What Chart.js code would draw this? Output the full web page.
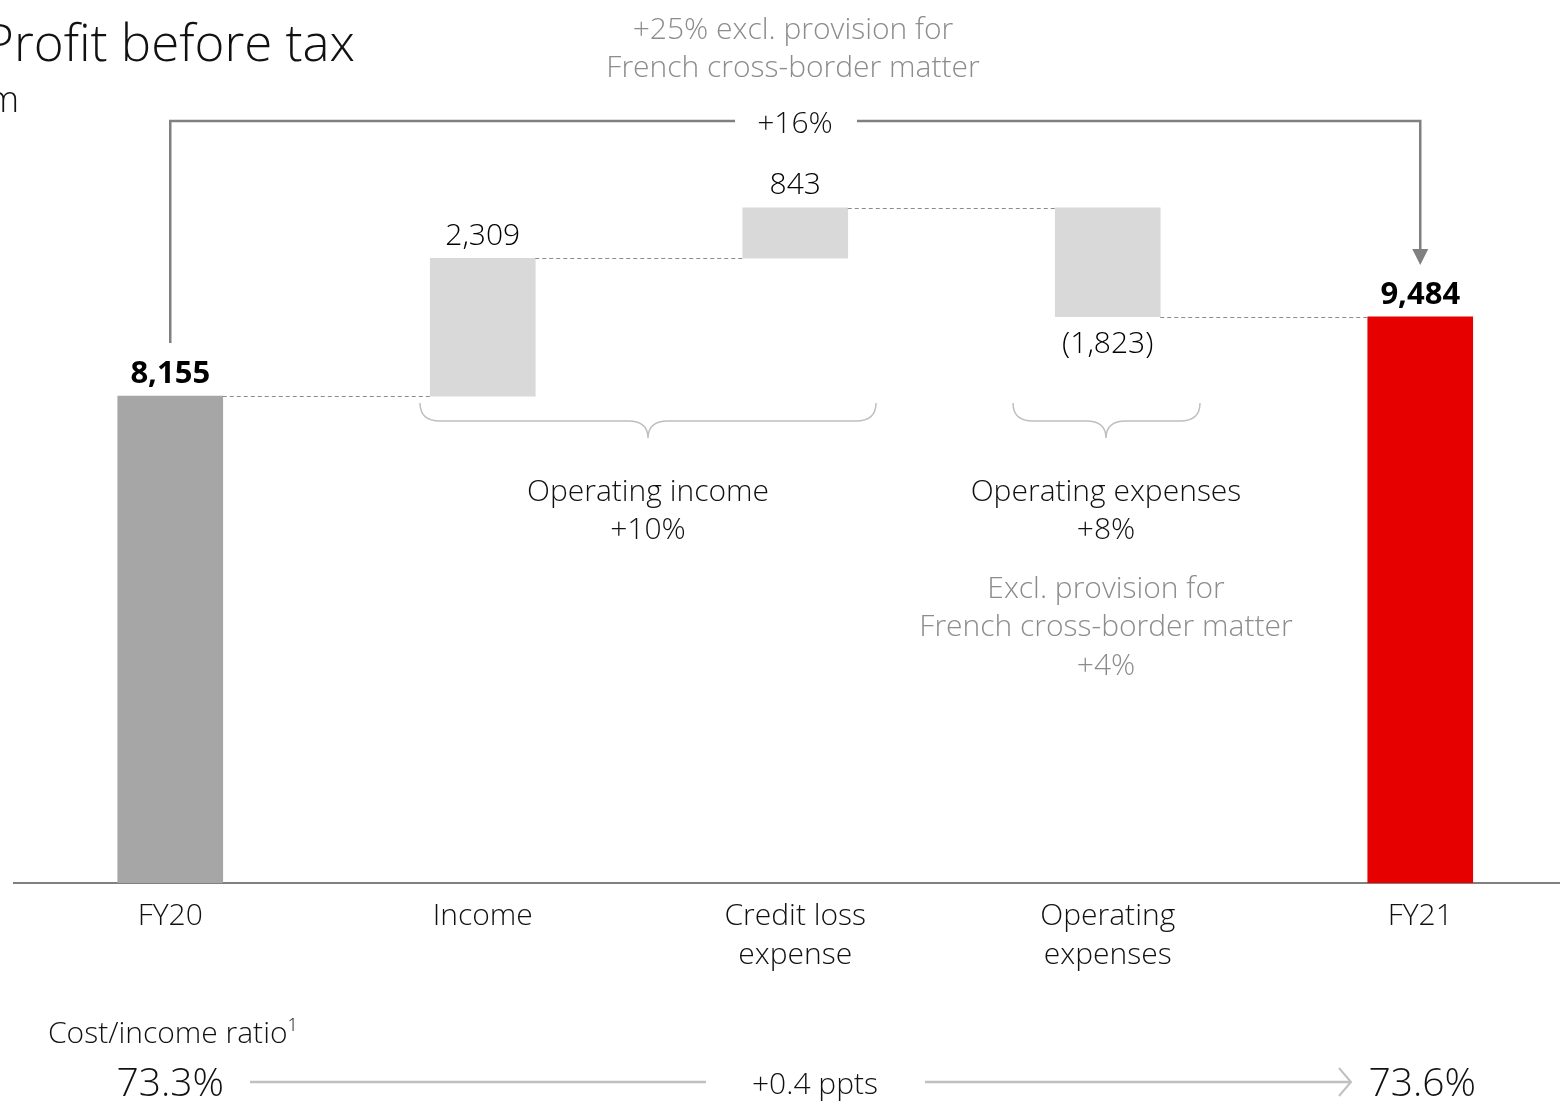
<!DOCTYPE html>
<html>
<head>
<meta charset="utf-8">
<title>Profit before tax</title>
<script src="https://cdn.jsdelivr.net/npm/chart.js@4/dist/chart.umd.min.js"></script>
<style>
  html, body { margin: 0; padding: 0; background: #fff; overflow: hidden; }
  #wrap { position: absolute; left: -120px; top: 0; width: 1720px; height: 1102px; }
</style>
</head>
<body>
<div id="wrap"><canvas id="pbt" width="1720" height="1102"></canvas></div>
<script>
  // shift of the canvas against the page (title is partly off the left edge)
  var OFFSET = 120;
  var FONT = '"Open Sans", "Noto Sans", sans-serif';

  // waterfall data, USD m
  var categories = ['FY20', 'Income', ['Credit loss', 'expense'], ['Operating', 'expenses'], 'FY21'];
  var startValue = 8155;
  var changes = [2309, 843, -1823];
  var endValue = 9484;
  var valueLabels = ['8,155', '2,309', '843', '(1,823)', '9,484'];
  var barColors = ['#a6a6a6', '#d9d9d9', '#d9d9d9', '#d9d9d9', '#e60000'];

  // cost/income ratio row
  var ratioStart = '73.3%';
  var ratioEnd = '73.6%';
  var ratioChange = '+0.4 ppts';

  // build floating ranges for the waterfall
  var ranges = [[0, startValue]];
  var running = startValue;
  changes.forEach(function(c) {
    var next = running + c;
    ranges.push([Math.min(running, next), Math.max(running, next)]);
    running = next;
  });
  ranges.push([0, endValue]);

  function text(ctx, str, x, y, size, color, weight, align) {
    ctx.save();
    ctx.font = (weight || 300) + ' ' + size + 'px ' + FONT;
    ctx.fillStyle = color || '#111';
    ctx.textAlign = align || 'center';
    ctx.textBaseline = 'middle';
    ctx.fillText(str, x + OFFSET, y + 2);
    ctx.restore();
  }

  function line(ctx, pts, color, width, dash) {
    ctx.save();
    ctx.strokeStyle = color;
    ctx.lineWidth = width;
    ctx.setLineDash(dash || []);
    ctx.beginPath();
    pts.forEach(function(p, i) {
      if (i === 0) ctx.moveTo(p[0] + OFFSET, p[1]);
      else ctx.lineTo(p[0] + OFFSET, p[1]);
    });
    ctx.stroke();
    ctx.restore();
  }

  // curly brace opening downwards, from l to r, cusp at m
  function brace(ctx, l, r, m, top, color) {
    var mid = top + 18, tip = top + 35;
    l += OFFSET; r += OFFSET; m += OFFSET;
    ctx.save();
    ctx.strokeStyle = color;
    ctx.lineWidth = 1.5;
    ctx.beginPath();
    ctx.moveTo(l, top);
    ctx.quadraticCurveTo(l, mid, l + 20, mid);
    ctx.lineTo(m - 20, mid);
    ctx.quadraticCurveTo(m, mid, m, tip);
    ctx.quadraticCurveTo(m, mid, m + 20, mid);
    ctx.lineTo(r - 20, mid);
    ctx.quadraticCurveTo(r, mid, r, top);
    ctx.stroke();
    ctx.restore();
  }

  var waterfallPlugin = {
    id: 'waterfall',
    afterDatasetsDraw: function(chart) {
      var ctx = chart.ctx;
      var meta = chart.getDatasetMeta(0);
      var y = chart.scales.y;
      // dashed connectors between bars
      var level = startValue;
      for (var i = 0; i < meta.data.length - 1; i++) {
        if (i > 0) level += changes[i - 1];
        var a = meta.data[i], b = meta.data[i + 1];
        var py = Math.round(y.getPixelForValue(level)) + 0.5;
        line(ctx, [[a.x + a.width / 2 - OFFSET, py], [b.x - b.width / 2 - OFFSET, py]], '#8c8c8c', 1, [4, 3]);
      }
      // value labels
      meta.data.forEach(function(bar, i) {
        var bold = (i === 0 || i === meta.data.length - 1);
        var neg = i > 0 && i < meta.data.length - 1 && changes[i - 1] < 0;
        var top = Math.min(bar.y, bar.base), bottom = Math.max(bar.y, bar.base);
        var ly = neg ? bottom + 26 : top - 24;
        text(ctx, valueLabels[i], bar.x - OFFSET, ly, bold ? 31 : 30, '#000', bold ? 700 : 300);
      });
    },
    afterDraw: function(chart) {
      var ctx = chart.ctx;
      var meta = chart.getDatasetMeta(0);
      var cx = meta.data.map(function(b) { return b.x - OFFSET; });

      // title
      text(ctx, 'Profit before tax', 355, 44, 51, '#111', 300, 'right');
      text(ctx, 'USD m', 19, 100, 36, '#111', 300, 'right');

      // +16% bracket with arrow
      var grey = '#808080';
      line(ctx, [[cx[0], 343], [cx[0], 121], [735, 121]], grey, 2.5);
      line(ctx, [[857, 121], [cx[4], 121], [cx[4], 252]], grey, 2.5);
      ctx.save();
      ctx.fillStyle = grey;
      ctx.beginPath();
      ctx.moveTo(cx[4] - 8 + OFFSET, 249);
      ctx.lineTo(cx[4] + 8 + OFFSET, 249);
      ctx.lineTo(cx[4] + OFFSET, 265);
      ctx.closePath();
      ctx.fill();
      ctx.restore();
      text(ctx, '+16%', 795, 122, 30, '#111');
      text(ctx, '+25% excl. provision for', 793, 28, 30, '#8c8c8c');
      text(ctx, 'French cross-border matter', 793, 66, 30, '#8c8c8c');

      // operating income brace
      brace(ctx, 420, 876, 648, 403, '#bfbfbf');
      text(ctx, 'Operating income', 648, 490, 30, '#111');
      text(ctx, '+10%', 648, 528, 30, '#111');

      // operating expenses brace
      brace(ctx, 1013, 1200, 1106, 403, '#bfbfbf');
      text(ctx, 'Operating expenses', 1106, 490, 30, '#111');
      text(ctx, '+8%', 1106, 528, 30, '#111');
      text(ctx, 'Excl. provision for', 1106, 587, 30, '#8c8c8c');
      text(ctx, 'French cross-border matter', 1106, 625, 30, '#8c8c8c');
      text(ctx, '+4%', 1106, 664, 30, '#8c8c8c');

      // cost/income ratio row
      text(ctx, 'Cost/income ratio', 48, 1032, 30, '#111', 300, 'left');
      ctx.save();
      ctx.font = '300 30px ' + FONT;
      var w = ctx.measureText('Cost/income ratio').width;
      ctx.restore();
      text(ctx, '1', 48 + w, 1024, 18, '#111', 300, 'left');
      text(ctx, ratioStart, cx[0], 1083, 39, '#111');
      text(ctx, ratioChange, 815, 1083, 30, '#111');
      text(ctx, ratioEnd, cx[4] + 2, 1083, 39, '#111');
      line(ctx, [[250, 1082], [706, 1082]], '#c0c0c0', 2.5);
      line(ctx, [[925, 1082], [1350, 1082]], '#c0c0c0', 2.5);
      line(ctx, [[1339, 1068], [1351, 1082], [1339, 1096]], '#c0c0c0', 2);
    }
  };

  new Chart(document.getElementById('pbt').getContext('2d'), {
    type: 'bar',
    data: {
      labels: categories,
      datasets: [{
        data: ranges,
        backgroundColor: barColors,
        borderWidth: 0,
        barThickness: 105
      }]
    },
    options: {
      responsive: false,
      animation: false,
      layout: { padding: { left: 134, right: 23.5, top: 0, bottom: 0 } },
      plugins: {
        legend: { display: false },
        tooltip: { enabled: false }
      },
      scales: {
        x: {
          grid: { display: false, drawTicks: false },
          border: { display: true, color: '#808080', width: 2 },
          ticks: {
            color: '#111',
            padding: 14,
            font: { family: FONT, size: 30, weight: 300, lineHeight: 1.3 },
            maxRotation: 0,
            autoSkip: false
          },
          afterFit: function(scale) { scale.height = 219; }
        },
        y: {
          display: false,
          min: 0,
          max: 14790
        }
      }
    },
    plugins: [waterfallPlugin]
  });
</script>
</body>
</html>
